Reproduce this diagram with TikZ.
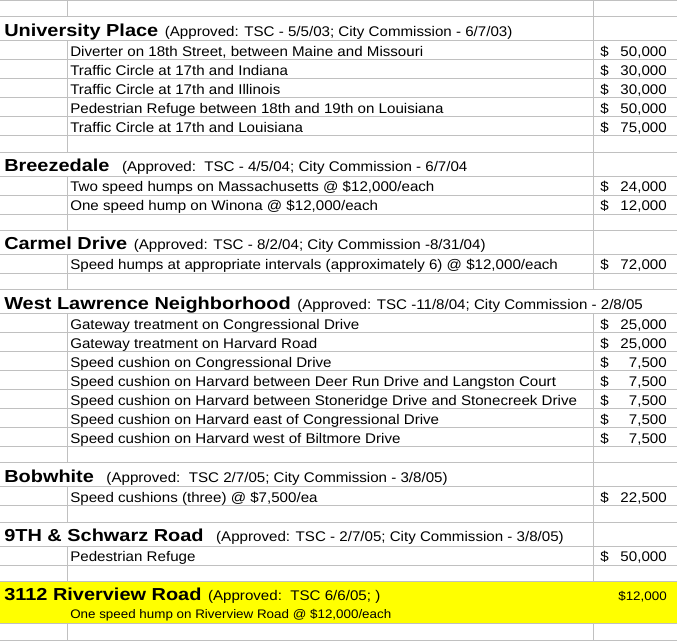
\documentclass[tikz,border=0pt]{standalone}
\usepackage{fontspec}
\setmainfont{Liberation Sans}[FakeStretch=1.08]
\newfontfamily\headfont{Liberation Sans}[FakeStretch=1.15]
\usetikzlibrary{positioning}
\definecolor{gridgray}{HTML}{C0C0C0}
\definecolor{hiyellow}{HTML}{FFFF00}

\begin{document}
\begin{tikzpicture}[x=0.75pt, y=-0.75pt,
  gridline/.style={draw=gridgray, line width=0.75pt},
  head/.style={anchor=base west, inner sep=0pt, font=\headfont\bfseries\fontsize{13}{15}\selectfont},
  note/.style={inner sep=0pt, font=\fontsize{10.5}{12}\selectfont},
  item/.style={anchor=base west, inner sep=0pt, font=\fontsize{10.5}{12}\selectfont},
  dollar/.style={anchor=base west, inner sep=0pt, font=\fontsize{10.5}{12}\selectfont},
  cost/.style={anchor=base east, inner sep=0pt, font=\fontsize{10.5}{12}\selectfont},
  smalltext/.style={inner sep=0pt, font=\fontsize{9.3}{11}\selectfont}]

% Sheet area
\useasboundingbox (0,0) rectangle (677,641);
\fill[white] (0,0) rectangle (677,641);

% Row lines
\foreach \y in {0.5,17,41,60,79,98,117,136,152.2,176.2,195.2,214.2,230.4,254.4,273.4,289.6,
  313.6,332.6,351.6,370.6,389.6,408.6,427.6,446.6,462.8,486.8,505.8,522,546,565,581.2,623.2,640}
  \draw[gridline] (0,\y) -- (677,\y);

% Column lines (broken where a heading runs over them)
\draw[gridline] (67.5,0) -- (67.5,17);
\draw[gridline] (67.5,41) -- (67.5,152.2);
\draw[gridline] (67.5,176.2) -- (67.5,230.4);
\draw[gridline] (67.5,254.4) -- (67.5,289.6);
\draw[gridline] (67.5,313.6) -- (67.5,462.8);
\draw[gridline] (67.5,486.8) -- (67.5,522);
\draw[gridline] (67.5,546) -- (67.5,581.2);
\draw[gridline] (67.5,623.2) -- (67.5,641);
\draw[gridline] (593.5,0) -- (593.5,289.6);
\draw[gridline] (593.5,313.6) -- (593.5,581.2);
\draw[gridline] (593.5,623.2) -- (593.5,641);

% Highlighted project
\fill[hiyellow] (0,581.7) rectangle (677,622.7);

% University Place
\node[head] (up) at (4,36.5) {University Place};
\node[note, base right=4.5pt of up] (upnote) {(Approved: TSC - 5/5/03; City Commission - 6/7/03)};
\node[item] (up1) at (70,56.5) {Diverter on 18th Street, between Maine and Missouri};
\node[item] (up2) at (70,75.5) {Traffic Circle at 17th and Indiana};
\node[item] (up3) at (70,94.5) {Traffic Circle at 17th and Illinois};
\node[item] (up4) at (70,113.5) {Pedestrian Refuge between 18th and 19th on Louisiana};
\node[item] (up5) at (70,132.5) {Traffic Circle at 17th and Louisiana};
\node[dollar] (up1d) at (600,56.5) {\$};
\node[dollar] (up2d) at (600,75.5) {\$};
\node[dollar] (up3d) at (600,94.5) {\$};
\node[dollar] (up4d) at (600,113.5) {\$};
\node[dollar] (up5d) at (600,132.5) {\$};
\node[cost] (up1c) at (667,56.5) {50,000};
\node[cost] (up2c) at (667,75.5) {30,000};
\node[cost] (up3c) at (667,94.5) {30,000};
\node[cost] (up4c) at (667,113.5) {50,000};
\node[cost] (up5c) at (667,132.5) {75,000};

% Breezedale
\node[head] (bz) at (4,171.7) {Breezedale};
\node[note, base right=9pt of bz] (bznote) {(Approved:\ \ TSC - 4/5/04; City Commission - 6/7/04};
\node[item] (bz1) at (70,191.7) {Two speed humps on Massachusetts @ \$12,000/each};
\node[item] (bz2) at (70,210.7) {One speed hump on Winona @ \$12,000/each};
\node[dollar] (bz1d) at (600,191.7) {\$};
\node[dollar] (bz2d) at (600,210.7) {\$};
\node[cost] (bz1c) at (667,191.7) {24,000};
\node[cost] (bz2c) at (667,210.7) {12,000};

% Carmel Drive
\node[head] (cd) at (4,249.9) {Carmel Drive};
\node[note, base right=4.5pt of cd] (cdnote) {(Approved: TSC - 8/2/04; City Commission -8/31/04)};
\node[item] (cd1) at (70,269.9) {Speed humps at appropriate intervals (approximately 6) @ \$12,000/each};
\node[dollar] (cd1d) at (600,269.9) {\$};
\node[cost] (cd1c) at (667,269.9) {72,000};

% West Lawrence Neighborhood
\node[head] (wl) at (4,309.1) {West Lawrence Neighborhood};
\node[note, base right=4.5pt of wl] (wlnote) {(Approved: TSC -11/8/04; City Commission - 2/8/05};
\node[item] (wl1) at (70,329.1) {Gateway treatment on Congressional Drive};
\node[item] (wl2) at (70,348.1) {Gateway treatment on Harvard Road};
\node[item] (wl3) at (70,367.1) {Speed cushion on Congressional Drive};
\node[item] (wl4) at (70,386.1) {Speed cushion on Harvard between Deer Run Drive and Langston Court};
\node[item] (wl5) at (70,405.1) {Speed cushion on Harvard between Stoneridge Drive and Stonecreek Drive};
\node[item] (wl6) at (70,424.1) {Speed cushion on Harvard east of Congressional Drive};
\node[item] (wl7) at (70,443.1) {Speed cushion on Harvard west of Biltmore Drive};
\node[dollar] (wl1d) at (600,329.1) {\$};
\node[dollar] (wl2d) at (600,348.1) {\$};
\node[dollar] (wl3d) at (600,367.1) {\$};
\node[dollar] (wl4d) at (600,386.1) {\$};
\node[dollar] (wl5d) at (600,405.1) {\$};
\node[dollar] (wl6d) at (600,424.1) {\$};
\node[dollar] (wl7d) at (600,443.1) {\$};
\node[cost] (wl1c) at (667,329.1) {25,000};
\node[cost] (wl2c) at (667,348.1) {25,000};
\node[cost] (wl3c) at (667,367.1) {7,500};
\node[cost] (wl4c) at (667,386.1) {7,500};
\node[cost] (wl5c) at (667,405.1) {7,500};
\node[cost] (wl6c) at (667,424.1) {7,500};
\node[cost] (wl7c) at (667,443.1) {7,500};

% Bobwhite
\node[head] (bw) at (4,482.3) {Bobwhite};
\node[note, base right=9pt of bw] (bwnote) {(Approved:\ \ TSC 2/7/05; City Commission - 3/8/05)};
\node[item] (bw1) at (70,502.3) {Speed cushions (three) @ \$7,500/ea};
\node[dollar] (bw1d) at (600,502.3) {\$};
\node[cost] (bw1c) at (667,502.3) {22,500};

% 9TH & Schwarz Road
\node[head] (sr) at (4,541.5) {9TH \& Schwarz Road};
\node[note, base right=9pt of sr] (srnote) {(Approved: TSC - 2/7/05; City Commission - 3/8/05)};
\node[item] (sr1) at (70,561.5) {Pedestrian Refuge};
\node[dollar] (sr1d) at (600,561.5) {\$};
\node[cost] (sr1c) at (667,561.5) {50,000};

% 3112 Riverview Road
\node[head] (rv) at (4,600) {3112 Riverview Road};
\node[note, base right=4.5pt of rv] (rvnote) {(Approved:\ \ TSC 6/6/05; )};
\node[smalltext, anchor=base east] (rvc) at (667,600) {\$12,000};
\node[smalltext, anchor=base west] (rv1) at (70,618.5) {One speed hump on Riverview Road @ \$12,000/each};

\end{tikzpicture}
\end{document}
